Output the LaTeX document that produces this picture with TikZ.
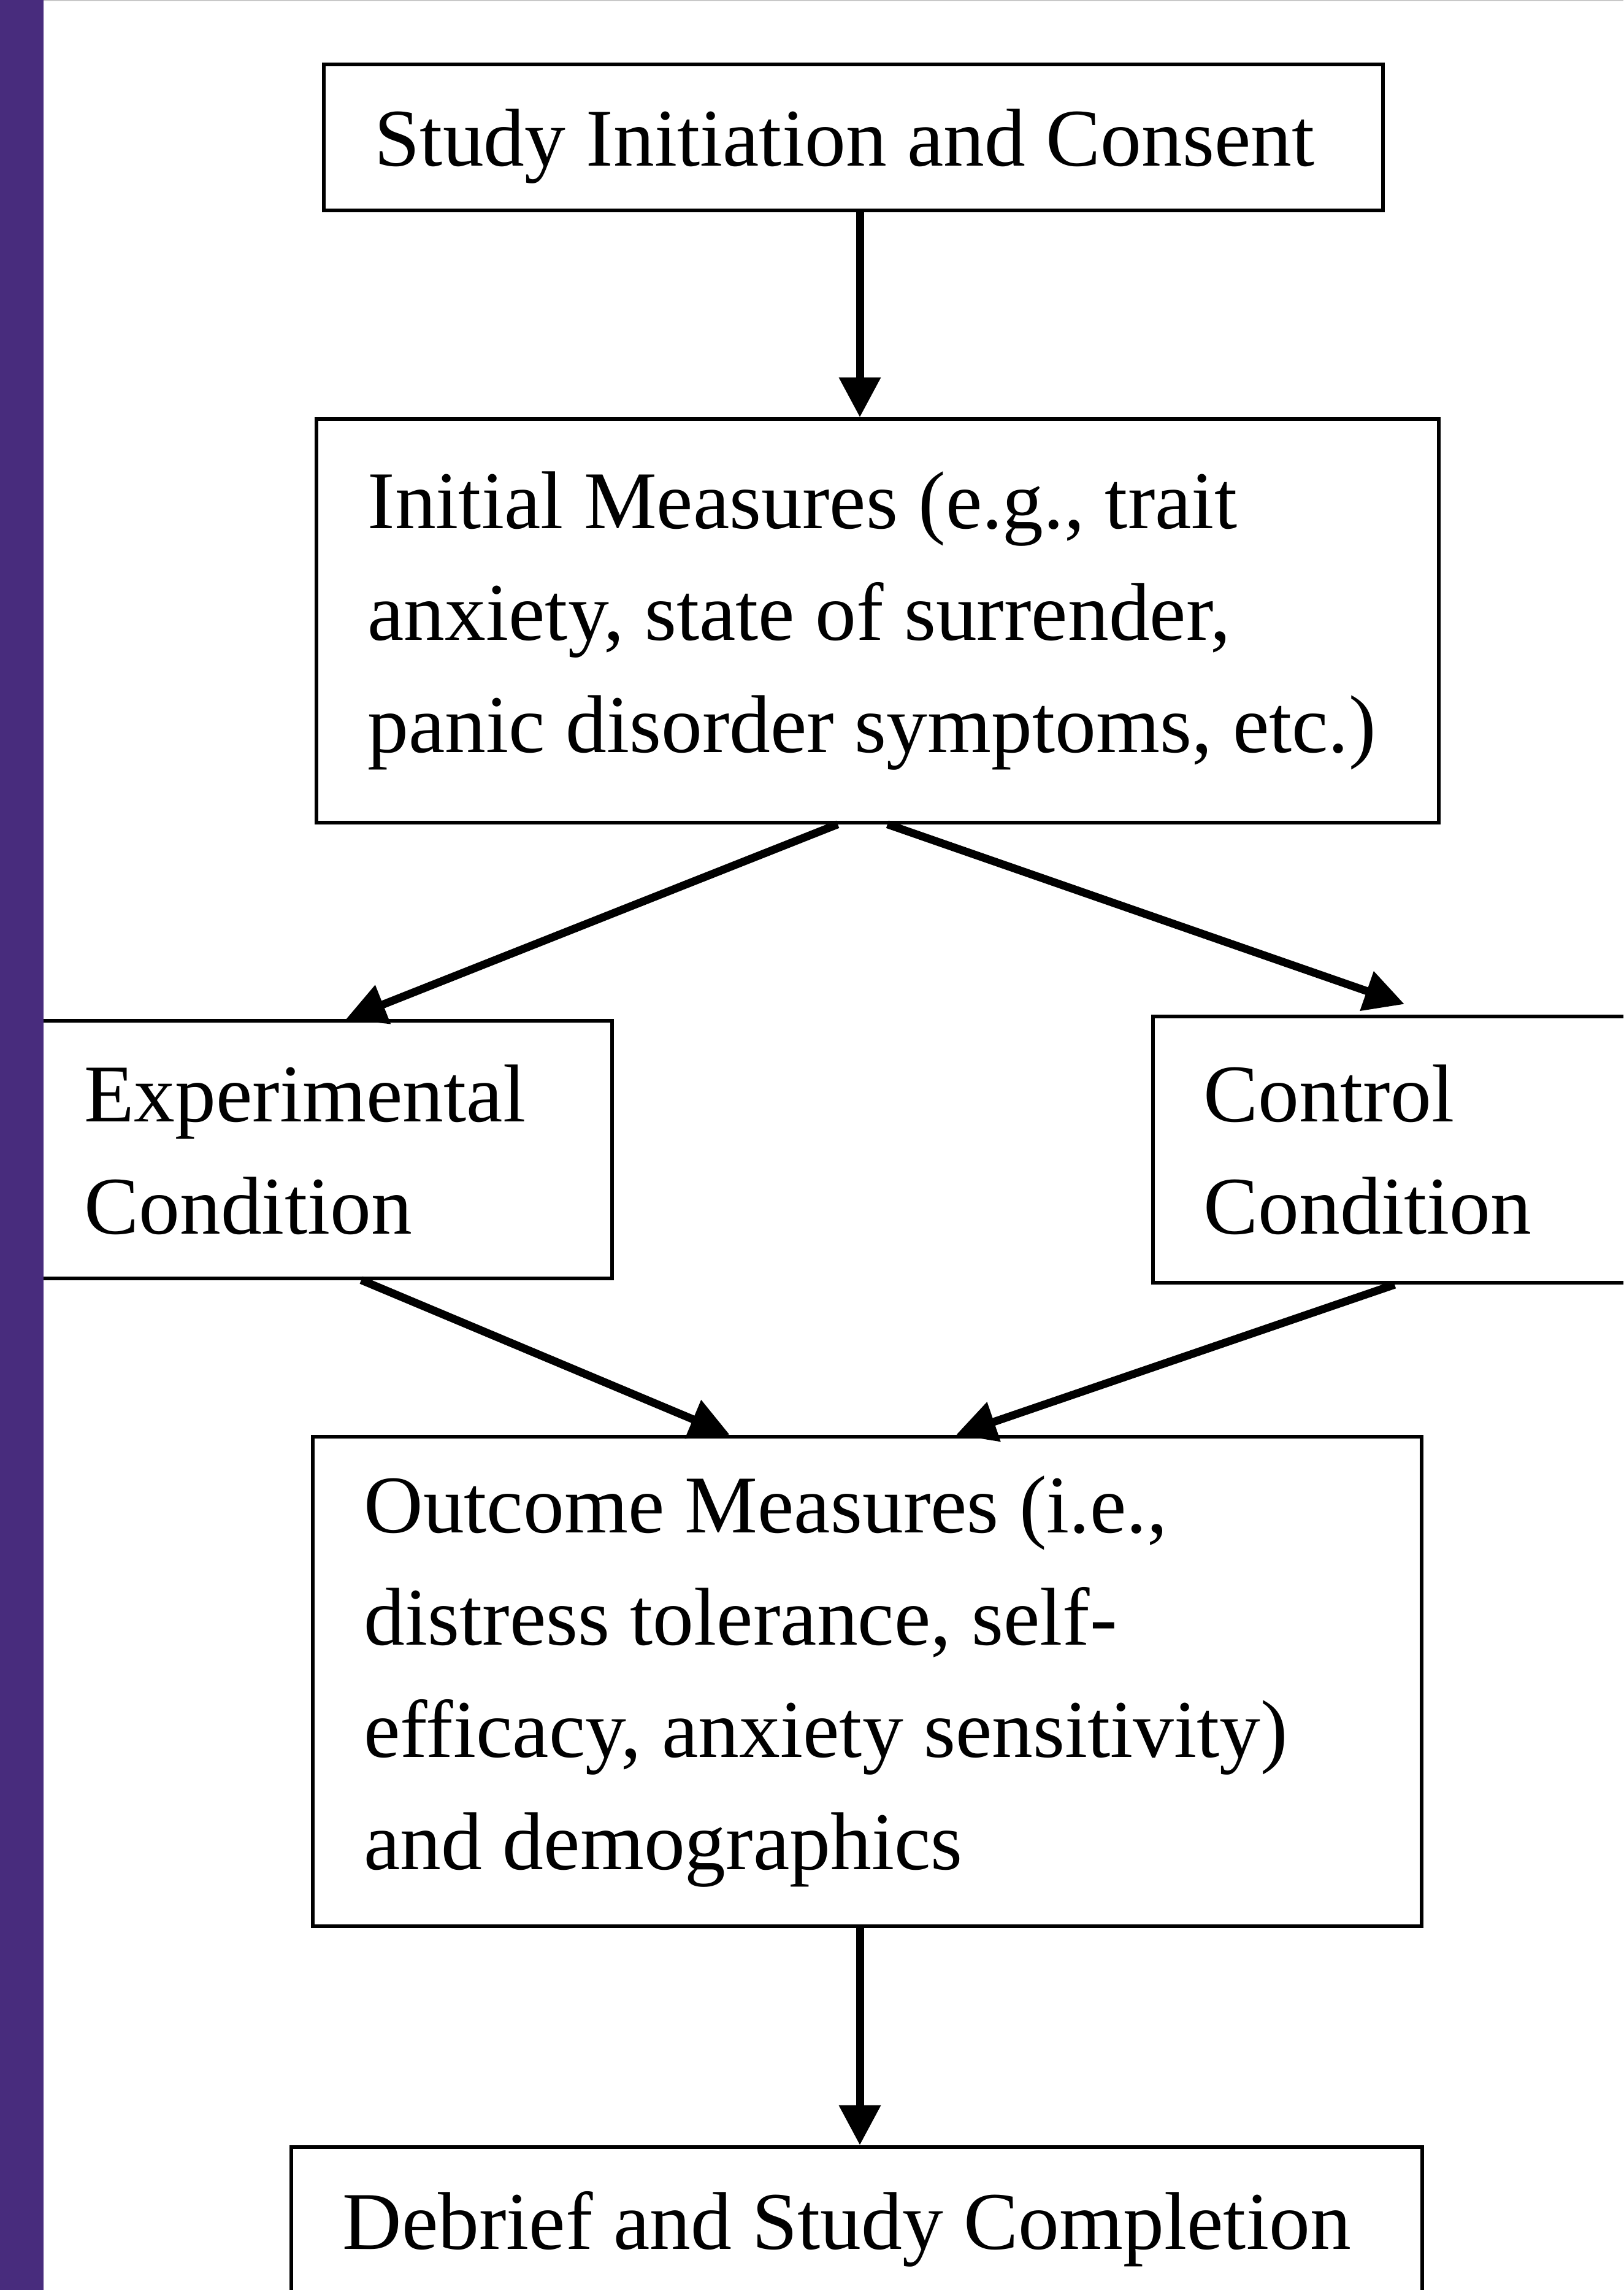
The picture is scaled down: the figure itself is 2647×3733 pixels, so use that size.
\documentclass[tikz,border=0pt]{standalone}
\usepackage{fontspec}
\setmainfont{Liberation Serif}
\usetikzlibrary{positioning, arrows.meta}
\definecolor{sidebar}{HTML}{482C7D}
\definecolor{rulegray}{HTML}{C8C8C8}

\begin{document}
\begin{tikzpicture}[
    x=0.01cm, y=-0.01cm,
    block/.style={rectangle, draw, line width=0.6mm,
                  inner xsep=0.83cm, inner ysep=0.2cm,
                  align=flush left, font=\fontsize{38pt}{52pt}\selectfont},
    arrow/.style={-{Triangle[length=0.65cm, width=0.65cm]}, line width=0.13cm},
  ]
  \useasboundingbox (0,0) rectangle (2647,3733);
  \clip (0,0) rectangle (2647,3733);
  \node[block, text width=15.6cm, text depth=0pt, minimum height=2.38cm] (consent) at (1391,224)
        {Study Initiation and Consent};
  \node[block, text width=16.62cm, minimum height=6.57cm] (initial) at (1431,1012)
        {Initial Measures (e.g., trait\\ anxiety, state of surrender,\\ panic disorder symptoms, etc.)};
  \node[block, text width=7.77cm, minimum height=4.19cm] (exper) at (526,1874)
        {Experimental\\ Condition};
  \node[block, text width=6.74cm, minimum height=4.34cm] (control) at (2300,1874)
        {Control\\ Condition};
  \node[block, text width=16.4cm, minimum height=7.98cm] (outcome) at (1414,2741)
        {Outcome Measures (i.e.,\\ distress tolerance, self-\\ efficacy, anxiety sensitivity)\\ and demographics};
  \node[block, text width=16.76cm, text depth=0pt, minimum height=2.38cm] (debrief) at (1397,3619)
        {Debrief and Study Completion};
  \draw[arrow] ([xshift=0.11cm]consent.south) -- ([xshift=0.11cm]consent.south |- initial.north);
  \draw[arrow] ([xshift=-0.65cm]initial.south) -- ([xshift=0.38cm]exper.north);
  \draw[arrow] ([xshift=0.16cm]initial.south) -- ([xshift=-0.1cm, yshift=0.17cm]control.north);
  \draw[arrow] ([xshift=0.63cm]exper.south) -- ([xshift=-2.24cm]outcome.north);
  \draw[arrow] ([xshift=-0.26cm]control.south) -- ([xshift=1.45cm]outcome.north);
  \draw[arrow] ([xshift=-0.12cm]outcome.south) -- ([xshift=-0.12cm]outcome.south |- debrief.north);
  % side bar and top rule
  \fill[sidebar] (0,0) rectangle (71,3733);
  \fill[rulegray] (71,0) rectangle (2647,2);
\end{tikzpicture}
\end{document}
